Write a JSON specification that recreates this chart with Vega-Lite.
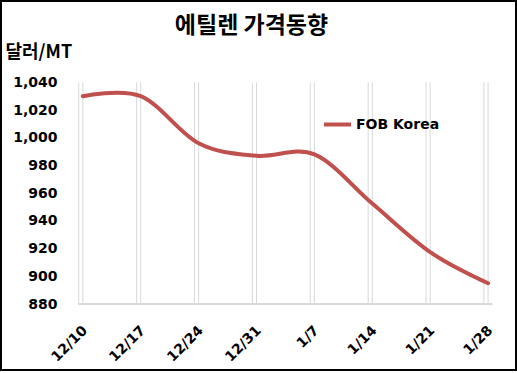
{
  "$schema": "https://vega.github.io/schema/vega-lite/v6.json",
  "width": 517,
  "height": 371,
  "autosize": {"type": "none"},
  "padding": 0,
  "background": "white",
  "title": {
    "text": "에틸렌 가격동향",
    "font": "Noto Sans CJK KR",
    "fontSize": 23,
    "fontWeight": "bold",
    "color": "black",
    "anchor": "middle",
    "offset": -38,
    "dx": -7
  },
  "config": {"view": {"stroke": "black", "strokeWidth": 4, "fill": "white"}},
  "data": {
    "values": [
      {"date": "2018-12-10", "price": 1030},
      {"date": "2018-12-17", "price": 1030},
      {"date": "2018-12-24", "price": 996},
      {"date": "2018-12-31", "price": 987},
      {"date": "2019-01-07", "price": 988},
      {"date": "2019-01-14", "price": 952.5},
      {"date": "2019-01-21", "price": 917.5},
      {"date": "2019-01-28", "price": 895}
    ]
  },
  "layer": [
    {
      "mark": {"type": "rule", "color": "#d9d9d9", "strokeWidth": 1},
      "encoding": {
        "x": {"field": "date", "type": "temporal", "timeUnit": "utcyearmonthdate", "bandPosition": 0},
        "y": {"datum": 880, "type": "quantitative"},
        "y2": {"datum": 1040}
      }
    },
    {
      "mark": {"type": "rule", "color": "#d9d9d9", "strokeWidth": 1},
      "encoding": {
        "x": {"field": "date", "type": "temporal", "timeUnit": "utcyearmonthdate", "bandPosition": 0.5},
        "y": {"datum": 880, "type": "quantitative"},
        "y2": {"datum": 1040}
      }
    },
    {
      "mark": {"type": "rule", "color": "#d9d9d9", "strokeWidth": 1},
      "encoding": {
        "x": {"datum": {"year": 2018, "month": 12, "date": 10, "utc": true}, "type": "temporal"},
        "x2": {"datum": {"year": 2019, "month": 1, "date": 29, "utc": true}},
        "y": {"datum": 880, "type": "quantitative"}
      }
    },
    {
      "mark": {"type": "line", "interpolate": "cardinal", "tension": 0, "strokeWidth": 4, "strokeCap": "round"},
      "encoding": {
        "x": {
          "field": "date",
          "type": "temporal",
          "timeUnit": "utcyearmonthdate",
          "bandPosition": 0.5,
          "scale": {
            "type": "utc",
            "domain": [
              {"year": 2018, "month": 11, "date": 30, "hours": 11, "minutes": 30, "utc": true},
              {"year": 2019, "month": 2, "date": 1, "utc": true}
            ]
          },
          "axis": {
            "orient": "bottom",
            "offset": -67,
            "domain": false,
            "grid": false,
            "ticks": false,
            "values": [
              {"year": 2018, "month": 12, "date": 10, "hours": 12, "utc": true},
              {"year": 2018, "month": 12, "date": 17, "hours": 12, "utc": true},
              {"year": 2018, "month": 12, "date": 24, "hours": 12, "utc": true},
              {"year": 2018, "month": 12, "date": 31, "hours": 12, "utc": true},
              {"year": 2019, "month": 1, "date": 7, "hours": 12, "utc": true},
              {"year": 2019, "month": 1, "date": 14, "hours": 12, "utc": true},
              {"year": 2019, "month": 1, "date": 21, "hours": 12, "utc": true},
              {"year": 2019, "month": 1, "date": 28, "hours": 12, "utc": true}
            ],
            "labelExpr": "utcFormat(datum.value, '%-m/%-d')",
            "labelAngle": -45,
            "labelAlign": "right",
            "labelBaseline": "top",
            "labelPadding": 19,
            "labelOffset": -3,
            "labelFont": "DejaVu Sans",
            "labelFontSize": 14,
            "labelFontWeight": "bold",
            "labelColor": "black",
            "labelOverlap": false,
            "labelFlush": false,
            "labelBound": false,
            "title": null
          }
        },
        "y": {
          "field": "price",
          "type": "quantitative",
          "scale": {"domain": [831.7, 1099.4], "nice": false, "zero": false},
          "axis": {
            "orient": "left",
            "offset": -60,
            "domain": false,
            "grid": false,
            "ticks": false,
            "values": [880, 900, 920, 940, 960, 980, 1000, 1020, 1040],
            "labelExpr": "format(datum.value, ',.0f')",
            "labelFont": "DejaVu Sans",
            "labelFontSize": 14,
            "labelFontWeight": "bold",
            "labelColor": "black",
            "labelPadding": 3,
            "title": "달러/MT",
            "titleAngle": 0,
            "titleX": -55,
            "titleY": 52,
            "titleAlign": "left",
            "titleBaseline": "middle",
            "titleFont": "Noto Sans CJK KR",
            "titleFontSize": 18,
            "titleFontWeight": "bold",
            "titleColor": "black"
          }
        },
        "color": {
          "datum": "FOB Korea",
          "scale": {"range": ["#C0504D"]},
          "legend": {
            "orient": "none",
            "legendX": 322,
            "legendY": 109,
            "title": null,
            "symbolType": "stroke",
            "symbolSize": 729,
            "symbolStrokeWidth": 4,
            "labelFont": "DejaVu Sans",
            "labelFontSize": 14,
            "labelFontWeight": "bold",
            "labelColor": "black",
            "labelOffset": 3,
            "padding": 0
          }
        }
      }
    }
  ]
}
